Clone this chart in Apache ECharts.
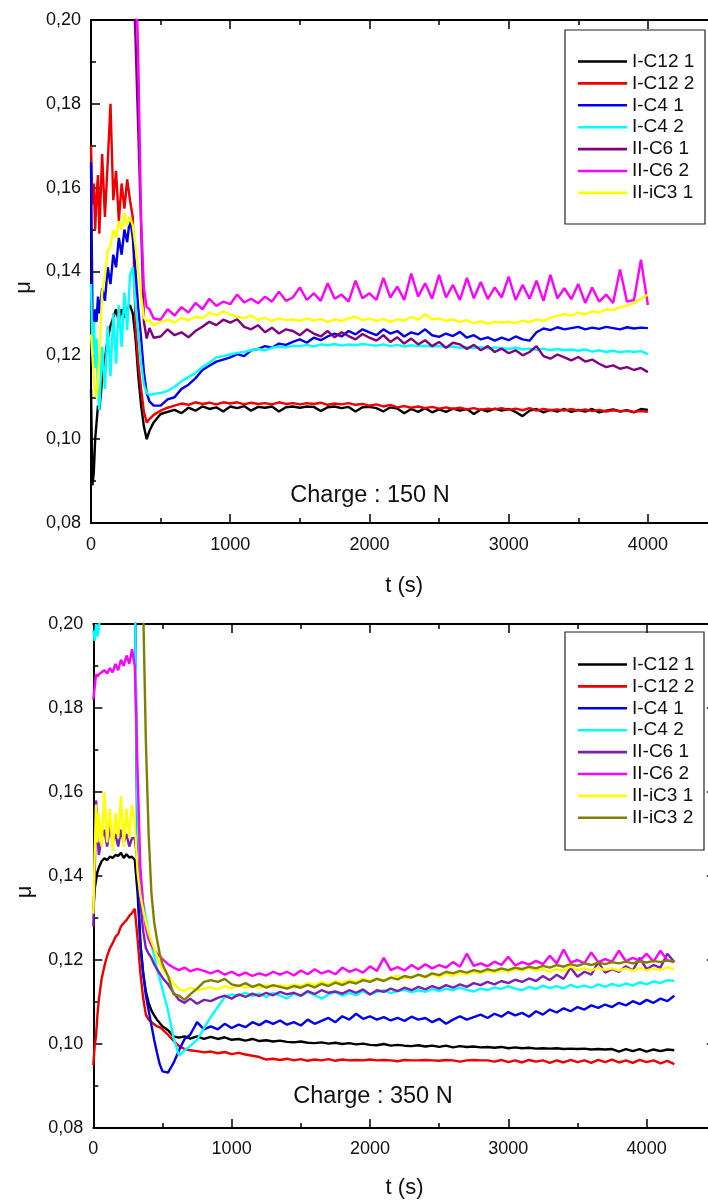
<!DOCTYPE html>
<html><head><meta charset="utf-8">
<script src="https://cdn.jsdelivr.net/npm/echarts@6/dist/echarts.min.js"></script>
<style>
html,body{margin:0;padding:0;width:708px;height:1204px;overflow:hidden;background:#fff;}
#c1,#c2{position:absolute;left:0;width:724px;height:602px;}
#c1{top:0px}#c2{top:602px}
</style></head><body>
<div id="c1"></div><div id="c2"></div>
<script>
// ---------- Chart 1 : Charge 150 N ----------
const t150 = [0,10,20,30,40,50,60,80,100,120,140,160,180,200,220,240,260,280,300,320,340,360,380,400,420,450,
500,550,600,650,700,750,800,850,900,950,
1000,1050,1100,1150,1200,1250,1300,1350,1400,1450,
1500,1550,1600,1650,1700,1750,1800,1850,1900,1950,
2000,2050,2100,2150,2200,2250,2300,2350,2400,2450,
2500,2550,2600,2650,2700,2750,2800,2850,2900,2950,
3000,3050,3100,3150,3200,3250,3300,3350,3400,3450,
3500,3550,3600,3650,3700,3750,3800,3850,3900,3950,
4000];
const names150 = ['I-C12 1','I-C12 2','I-C4 1','I-C4 2','II-C6 1','II-C6 2','II-iC3 1'];
const colors150 = ['#000000','#ee0000','#0000ee','#00ffff','#800080','#ff00ff','#ffff00'];
const IC12_1_150 = [.112,.089,.092,.100,.104,.108,.107,.114,.119,.124,.127,.129,.131,.128,.131,.129,.131,.132,.130,.124,.115,.108,.103,.100,.102,.104,
.106,.1065,.107,.1062,.1075,.1068,.1078,.1072,.1076,.1066,
.1078,.1074,.1079,.1068,.1077,.1075,.1078,.1066,.1076,.1078,
.1075,.1078,.1077,.1067,.1076,.1078,.1074,.1077,.1066,.1076,
.1077,.1074,.1066,.1076,.1073,.1062,.1072,.1065,.1074,.1064,
.1071,.1065,.1073,.1068,.1072,.106,.1071,.1066,.1073,.1068,
.1072,.1065,.1055,.1068,.1072,.1064,.107,.1066,.1072,.1065,
.107,.1066,.1072,.1064,.1068,.1071,.1066,.1069,.1064,.1072,
.107];
const IC12_2_150 = [.170,.156,.161,.150,.158,.163,.149,.168,.153,.166,.180,.157,.164,.152,.161,.155,.162,.157,.153,.127,.118,.112,.1065,.104,.1048,.1058,
.1068,.1075,.108,.1085,.1082,.1088,.1084,.1087,.1083,.1088,
.1085,.1088,.1083,.1087,.1084,.1086,.1083,.1088,.1084,.1086,
.1083,.1086,.1084,.1087,.1082,.1085,.1083,.1086,.1082,.1084,
.108,.1083,.1078,.1082,.1076,.1079,.1075,.1078,.1074,.1077,
.1073,.1076,.1072,.1075,.1071,.1074,.107,.1073,.1071,.1074,
.107,.1073,.1069,.1074,.1068,.1072,.1069,.1071,.1068,.1072,
.1068,.1071,.1067,.107,.1066,.1069,.1067,.1068,.1065,.1067,
.1065];
const IC4_1_150 = [.166,.131,.127,.131,.128,.134,.130,.136,.133,.141,.137,.144,.141,.148,.144,.150,.147,.153,.148,.140,.131,.124,.116,.111,.109,.108,
.108,.1095,.110,.112,.113,.1145,.1165,.1175,.1185,.119,
.1195,.1203,.1198,.1212,.1215,.1222,.1218,.1228,.1225,.1232,
.1238,.123,.1242,.1236,.1245,.1252,.1245,.1258,.125,.1262,
.1255,.1248,.1262,.1252,.1258,.1245,.1255,.125,.1262,.1248,
.1244,.1252,.1246,.1256,.1242,.1248,.1238,.1243,.1235,.1242,
.1236,.1245,.1238,.1235,.1255,.1264,.126,.1267,.1262,.1265,
.1268,.1262,.1266,.1263,.1268,.1265,.1262,.1267,.1264,.1266,
.1265];
const IC4_2_150 = [.137,.121,.128,.117,.124,.111,.107,.122,.112,.127,.115,.130,.118,.132,.122,.135,.126,.139,.141,.132,.125,.118,.113,.111,.1105,.1108,
.111,.1115,.1125,.1138,.1148,.1158,.1172,.1182,.1195,.1198,
.1202,.1206,.1208,.1212,.1215,.1212,.1218,.1221,.1219,.1223,
.1222,.1225,.1221,.1226,.1224,.1227,.1223,.1226,.1224,.1227,
.1225,.1223,.1226,.1222,.1225,.1221,.1224,.1222,.1223,.1221,
.1222,.1219,.1221,.1218,.122,.1217,.122,.1216,.1219,.1217,
.1215,.1218,.1214,.1216,.1213,.1216,.1212,.1215,.1212,.1214,
.1211,.1214,.1209,.1212,.1208,.1211,.1207,.121,.1208,.121,
.1203];
const IIC6_1_150 = [.23,.23,.23,.23,.23,.23,.23,.23,.23,.23,.23,.23,.23,.23,.23,.23,.23,.23,.215,.195,.173,.151,.128,.124,.1265,.1242,
.1245,.1262,.1248,.1255,.1243,.1258,.1268,.128,.1272,.1285,
.1278,.1286,.1268,.1262,.1272,.1255,.1266,.1252,.1262,.1258,
.1248,.1262,.1252,.1245,.1258,.1243,.1255,.1246,.1238,.1251,
.1242,.1235,.1248,.1232,.1243,.1228,.124,.1226,.1236,.1222,
.1232,.1218,.123,.1226,.1215,.1225,.1212,.1222,.1208,.1216,
.1205,.1212,.12,.1208,.1222,.1198,.1192,.1202,.1195,.1188,
.1196,.1185,.119,.118,.1172,.1176,.1168,.1172,.1165,.117,
.116];
const IIC6_2_150 = [.23,.23,.23,.23,.23,.23,.23,.23,.23,.23,.23,.23,.23,.23,.23,.23,.23,.23,.23,.215,.19,.152,.136,.1315,.131,.1288,
.1285,.131,.1295,.1315,.1302,.1325,.131,.1335,.1318,.1328,
.1322,.1345,.1326,.1335,.1324,.134,.1328,.1352,.133,.1338,
.1362,.1332,.1348,.133,.1372,.1335,.1345,.1328,.1378,.1336,
.1348,.1332,.1385,.1338,.1364,.1332,.1395,.134,.1372,.1335,
.1392,.1338,.1368,.1332,.1385,.1336,.1375,.1334,.1362,.1338,
.1388,.1332,.1368,.1335,.1378,.133,.1392,.1336,.136,.1334,
.137,.1325,.1362,.1328,.1345,.1325,.1405,.1328,.1332,.1428,
.132];
const IIiC3_1_150 = [.125,.120,.115,.111,.110,.114,.120,.135,.139,.145,.146,.150,.148,.152,.150,.154,.151,.153,.151,.146,.140,.134,.129,.128,.1285,.1272,
.128,.1285,.1278,.129,.1283,.1292,.1288,.1302,.1295,.1305,
.1298,.1292,.1288,.1295,.1284,.129,.1282,.1288,.1284,.1286,
.1282,.1288,.1283,.1287,.128,.1286,.1282,.1288,.1292,.1284,
.1288,.1282,.1287,.128,.1286,.1283,.1292,.1285,.1298,.1286,
.1288,.1282,.1286,.128,.1284,.1276,.1282,.1275,.128,.1278,
.128,.1277,.1283,.1279,.1286,.1282,.129,.1294,.1298,.1295,
.1302,.1298,.1305,.1302,.131,.1308,.1315,.1318,.1325,.1335,
.1345];

// ---------- Chart 2 : Charge 350 N ----------
const t350 = [0,10,20,30,40,60,80,100,120,140,160,180,200,220,240,260,280,300,
320,340,360,380,400,420,440,460,480,500,
540,580,620,660,700,750,800,
850,900,950,1000,1050,1100,1150,1200,1250,1300,
1350,1400,1450,1500,1550,1600,1650,1700,1750,1800,
1850,1900,1950,2000,2050,2100,2150,2200,2250,2300,
2350,2400,2450,2500,2550,2600,2650,2700,2750,2800,
2850,2900,2950,3000,3050,3100,3150,3200,3250,3300,
3350,3400,3450,3500,3550,3600,3650,3700,3750,3800,
3850,3900,3950,4000,4050,4100,4150,4200];
const names350 = ['I-C12 1','I-C12 2','I-C4 1','I-C4 2','II-C6 1','II-C6 2','II-iC3 1','II-iC3 2'];
const colors350 = ['#000000','#ee0000','#0000ee','#00ffff','#7b1fb5','#ff00ff','#ffff00','#808000'];
const IC12_1_350 = [.132,.137,.139,.141,.142,.1435,.1442,.1438,.1446,.1443,.145,.1448,.1455,.1443,.1452,.1444,.1446,.1438,
.136,.124,.117,.1125,.1098,.108,.1068,.1058,.105,.1042,
.1033,.1018,.1015,.1018,.1013,.1018,.1012,
.1017,.1012,.1016,.101,.1012,.1008,.1012,.1007,.1009,.1006,
.1008,.1005,.1004,.1006,.1003,.1002,.1004,.1001,.1003,.1,
.1002,.0999,.1001,.0998,.0997,.1,.0996,.0998,.0996,.0995,
.0997,.0994,.0996,.0993,.0996,.0992,.0995,.0993,.0994,.0992,
.0993,.0991,.0993,.099,.0992,.099,.0991,.0989,.099,.0989,
.099,.0988,.0989,.0988,.0989,.0987,.0988,.0987,.0988,.0982,
.0988,.0983,.0988,.0982,.0987,.0983,.0987,.0985];
const IC12_2_350 = [.095,.0995,.102,.107,.1105,.1155,.1185,.121,.1228,.124,.1255,.1262,.128,.1288,.1295,.1305,.1312,.1322,
.125,.117,.111,.107,.1058,.1052,.1047,.1042,.104,.1035,
.1022,.1008,.0995,.0988,.0985,.0983,.098,
.0982,.0978,.0981,.0976,.0979,.0975,.0972,.0969,.0963,.0965,
.0962,.0965,.0961,.0964,.096,.0963,.0961,.0964,.096,.0963,
.0961,.0962,.0961,.0963,.0961,.0962,.0961,.0959,.0962,.0961,
.0961,.0962,.0961,.096,.0962,.0961,.0958,.0961,.0962,.0961,
.0961,.0958,.0962,.0957,.0961,.0956,.0962,.0958,.0961,.0955,
.0961,.0956,.0962,.0957,.0961,.0955,.0962,.0957,.0963,.0956,
.0961,.0955,.0962,.0957,.0961,.0954,.096,.0952];
const IC4_1_350 = [.23,.23,.23,.23,.23,.23,.23,.23,.23,.23,.23,.23,.23,.23,.23,.23,.23,.215,
.14,.124,.117,.1115,.108,.1045,.101,.098,.0952,.0935,
.0932,.0955,.0985,.1012,.1022,.1052,.1035,
.1042,.1035,.1048,.1038,.1046,.104,.1052,.1045,.1055,.1048,
.1056,.1046,.1052,.1044,.1058,.1048,.1055,.1062,.1052,.1066,
.1058,.1072,.106,.1066,.1058,.1064,.1056,.1062,.1055,.1065,
.1058,.1062,.1052,.106,.1048,.1058,.1066,.1058,.1064,.107,
.1062,.1072,.1065,.1076,.1068,.1074,.1065,.1078,.107,.1082,
.1075,.1085,.1078,.1088,.1082,.1092,.1086,.1094,.1088,.1098,
.1092,.1102,.1095,.1105,.1098,.1108,.1102,.1115];
const IC4_2_350 = [.1985,.196,.2,.197,.199,.205,.23,.23,.23,.23,.23,.23,.23,.23,.23,.23,.23,.21,
.152,.141,.134,.13,.1265,.1235,.121,.118,.1155,.113,
.108,.1015,.0972,.0985,.0995,.101,.1038,
.1065,.1088,.1112,.1118,.1115,.1122,.1114,.112,.1112,.1122,
.1115,.1108,.112,.1114,.1124,.1116,.1108,.1118,.1124,.1115,
.1122,.1116,.1126,.1118,.1124,.1128,.1121,.1126,.1129,.1123,
.1128,.1124,.1131,.1126,.1132,.1128,.1134,.1129,.1125,.1132,
.1128,.1135,.1131,.1138,.1132,.1128,.1136,.1131,.1139,.1133,
.1138,.1132,.1141,.1135,.1139,.1134,.1142,.1136,.1143,.1138,
.1144,.1139,.1147,.1142,.1149,.1145,.1152,.115];
const IIC6_1_350 = [.128,.14,.158,.15,.145,.149,.151,.147,.152,.148,.15,.147,.151,.148,.15,.147,.149,.149,
.143,.134,.127,.1228,.1215,.1205,.119,.1178,.1168,.1158,
.1142,.1122,.1105,.1098,.1108,.1096,.1105,
.1102,.111,.1115,.1108,.1118,.1112,.112,.1114,.1122,.1116,
.1124,.1118,.1122,.1115,.1126,.1119,.1128,.1122,.1125,.112,
.1128,.1122,.113,.1118,.1128,.1124,.1132,.1126,.1134,.1128,
.1136,.113,.1138,.1132,.114,.1134,.1142,.1136,.1145,.114,
.1148,.1142,.115,.1145,.1153,.1148,.1156,.115,.1162,.1152,
.1165,.1155,.1182,.116,.1172,.1165,.1195,.117,.1178,.1172,
.1185,.1175,.1205,.1178,.1188,.1182,.1215,.1195];
const IIC6_2_350 = [.182,.185,.188,.1875,.188,.1885,.189,.1882,.1895,.1885,.1905,.189,.1915,.19,.1925,.1905,.194,.19,
.165,.142,.133,.1275,.125,.1235,.1225,.1215,.121,.1202,
.119,.1182,.1176,.1182,.1173,.1179,.1174,
.1168,.1175,.1165,.1172,.1163,.117,.1162,.1168,.1163,.1172,
.1165,.1172,.1163,.1175,.1166,.1178,.1168,.1174,.1166,.1182,
.1172,.1178,.117,.1185,.1174,.1205,.1176,.1183,.1175,.1188,
.1178,.119,.118,.1188,.1182,.1195,.1184,.1215,.1186,.1192,
.1185,.1196,.1188,.1208,.1187,.1195,.1189,.1198,.119,.121,
.1192,.1225,.1194,.12,.1192,.1218,.1195,.1202,.1196,.1222,
.1197,.1205,.1198,.1215,.1196,.1222,.1199,.1195];
const IIiC3_1_350 = [.131,.145,.157,.148,.155,.147,.16,.148,.156,.146,.155,.149,.159,.147,.156,.149,.157,.153,
.141,.1355,.132,.129,.1265,.1245,.1228,.121,.1192,.1178,
.1162,.1145,.113,.1126,.1134,.1128,.1132,
.1135,.113,.1138,.1132,.114,.1134,.1138,.1133,.1141,.1136,
.114,.1136,.1142,.1138,.1145,.114,.1148,.1142,.115,.1146,
.1152,.1148,.1155,.115,.1156,.1152,.1158,.1162,.1156,.116,
.1164,.1158,.1166,.116,.1168,.1162,.117,.1165,.1172,.1168,
.1174,.117,.1176,.1172,.1178,.1174,.1181,.1175,.1178,.1172,
.1178,.1174,.1185,.1176,.118,.1175,.1182,.1176,.118,.1175,
.118,.1174,.1182,.1175,.118,.1176,.1183,.1178];
const IIiC3_2_350 = [.23,.23,.23,.23,.23,.23,.23,.23,.23,.23,.23,.23,.23,.23,.23,.23,.23,.23,
.23,.23,.205,.172,.15,.136,.129,.125,.1215,.119,
.1162,.1118,.1115,.1105,.1118,.1132,.1148,
.1152,.1148,.1155,.1142,.1138,.1145,.1136,.1142,.1134,.114,
.1136,.1132,.1138,.1134,.1141,.1135,.1143,.1138,.1146,.114,
.1148,.1144,.1152,.1148,.1155,.115,.1158,.1154,.1162,.1158,
.1165,.116,.1168,.1164,.1172,.1168,.1174,.117,.1176,.1172,
.1178,.1174,.118,.1176,.1182,.1178,.1184,.118,.1186,.1182,
.1188,.1184,.119,.1186,.1192,.1188,.1194,.119,.1195,.1192,
.1196,.1192,.1197,.1194,.1198,.1195,.1199,.1196];

const xTicks = [0, 4500, 1000];      // min, max, interval of t axis
const yTicks = [0.08, 0.20, 0.02];   // min, max, interval of mu axis

const FONT = "'Liberation Sans', Arial, Helvetica, sans-serif";
function yFmt(v){ return v.toFixed(2).replace('.', ','); }
function xFmt(v){ return String(Math.round(v)); }

function buildOption(cfg){
  const series = cfg.names.map((n,i)=>({
    name:n, type:'line',
    data: cfg.times.map((t,j)=>[t, cfg.values[i][j]]),
    showSymbol:false, symbol:'none', clip:true, animation:false,
    lineStyle:{color:cfg.colors[i], width:2.4},
    itemStyle:{color:cfg.colors[i]},
    emphasis:{disabled:true}
  }));
  const axLine = {show:true, onZero:false, lineStyle:{color:'#000', width:2}};
  const axTick = {show:true, inside:true, length:9, lineStyle:{color:'#000', width:1.5}};
  const minTick = {show:true, splitNumber:2, length:5, lineStyle:{color:'#000', width:1.5}};
  const baseX = {type:'value', min:xTicks[0], max:xTicks[1], interval:xTicks[2],
    axisLine:axLine, axisTick:axTick, minorTick:minTick, splitLine:{show:false}};
  const baseY = {type:'value', min:yTicks[0], max:yTicks[1], interval:yTicks[2],
    axisLine:axLine, axisTick:axTick, minorTick:minTick, splitLine:{show:false}};
  return {
    animation:false,
    textStyle:{fontFamily:FONT},
    grid:{left:cfg.grid[0], top:cfg.grid[1], width:cfg.grid[2], height:cfg.grid[3], containLabel:false},
    xAxis:[
      Object.assign({}, baseX, {position:'bottom',
        axisLabel:{fontSize:18, color:'#111', margin:cfg.xLabelMargin, showMaxLabel:false, formatter:xFmt, fontFamily:FONT},
        name:'t (s)', nameLocation:'middle', nameGap:cfg.xNameGap,
        nameTextStyle:{fontSize:22, color:'#111', fontFamily:FONT}}),
      Object.assign({}, baseX, {position:'top', axisLabel:{show:false}})
    ],
    yAxis:[
      Object.assign({}, baseY, {position:'left',
        axisLabel:{fontSize:18, color:'#111', margin:10, formatter:yFmt, showMaxLabel:true, showMinLabel:true, fontFamily:FONT},
        name:'μ', nameLocation:'middle', nameRotate:90, nameGap:cfg.yNameGap,
        nameTextStyle:{fontSize:22, color:'#111', fontFamily:FONT, padding:[0,32,0,0]}}),
      Object.assign({}, baseY, {position:'right', axisLabel:{show:false}})
    ],
    legend:{orient:'vertical', left:578, top:cfg.legendTop, icon:'rect', itemWidth:49, itemHeight:2.6, itemGap:cfg.legendGap, padding:0,
      selectedMode:false, data:cfg.names,
      textStyle:{fontSize:19, color:'#111', fontFamily:FONT}},
    graphic:[
      {type:'rect', silent:true, z:100, shape:{x:cfg.box[0], y:cfg.box[1], width:cfg.box[2], height:cfg.box[3]},
        style:{fill:'none', stroke:'#222', lineWidth:1.2}},
      {type:'text', silent:true, z:100, x:cfg.note[0], y:cfg.note[1],
        style:{text:cfg.note[2], fontSize:23.5, fontFamily:FONT, fill:'#111', align:'center', verticalAlign:'middle'}}
    ],
    series
  };
}

const ch1 = echarts.init(document.getElementById('c1'), null, {renderer:'canvas', width:724, height:602});
ch1.setOption(buildOption({
  times:t150, names:names150, colors:colors150,
  values:[IC12_1_150, IC12_2_150, IC4_1_150, IC4_2_150, IIC6_1_150, IIC6_2_150, IIiC3_1_150],
  grid:[91, 20, 626.5, 509.3], xLabelMargin:13, xNameGap:52, yNameGap:55,
  legendTop:52, legendGap:2.9,
  box:[565, 30, 140, 194], note:[370, 496, 'Charge : 150 N']
}));
const ch2 = echarts.init(document.getElementById('c2'), null, {renderer:'canvas', width:724, height:602});
ch2.setOption(buildOption({
  times:t350, names:names350, colors:colors350,
  values:[IC12_1_350, IC12_2_350, IC4_1_350, IC4_2_350, IIC6_1_350, IIC6_2_350, IIiC3_1_350, IIiC3_2_350],
  grid:[93.3, 22, 622.5, 507.7], xLabelMargin:12, xNameGap:49, yNameGap:57,
  legendTop:53, legendGap:2.9,
  box:[565, 30, 139, 218], note:[373, 495, 'Charge : 350 N']
}));
</script>
</body></html>
